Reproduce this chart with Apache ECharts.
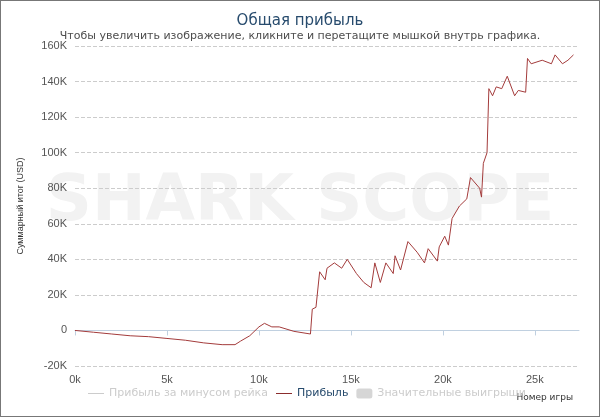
<!DOCTYPE html>
<html>
<head>
<meta charset="utf-8">
<script src="https://cdn.jsdelivr.net/npm/echarts@6/dist/echarts.min.js"></script>
<style>
  html, body { margin: 0; padding: 0; background: #fff; }
  #chart_show { width: 600px; height: 417px; box-sizing: border-box; border: 1px solid #777; }
</style>
</head>
<body>
<div id="chart_show"></div>
<script>
// номер игры (тыс.) и прибыль (тыс. USD)
var games = [0, 1, 2, 3, 4, 5, 6, 7, 8, 8.7, 9, 9.5, 10, 10.3, 10.7, 11.1, 11.9, 12.8, 12.9, 13.1, 13.3, 13.6, 13.7, 14.1, 14.5, 14.8, 15.3, 15.7, 16.1, 16.3, 16.6, 16.9, 17.3, 17.4, 17.7, 18.1, 18.6, 19.0, 19.2, 19.7, 19.8, 20.1, 20.3, 20.5, 20.9, 21.3, 21.5, 22.0, 22.1, 22.2, 22.4, 22.5, 22.7, 22.9, 23.2, 23.5, 23.9, 24.1, 24.5, 24.6, 24.8, 25.4, 25.9, 26.1, 26.5, 26.8, 27.1];
var profit = [0, -1, -2, -3, -3.5, -4.5, -5.5, -7, -8, -8, -6, -3, 2, 4, 2, 2, -0.5, -2, 12, 13, 33, 28.5, 35, 38, 35, 40, 32, 27, 24, 38, 27, 38, 32, 42, 34, 50, 44, 38, 46, 39, 47, 53, 48, 63, 70, 74, 86, 80, 75, 94, 100, 136, 132, 137, 136, 143, 132, 135, 134, 153, 150, 152, 150, 155, 150, 152, 155];
var yTicks = { min: -20, max: 160, step: 20 };
var xTicks = { min: 0, max: 27.4, step: 5 };

var points = games.map(function (g, i) { return [g, profit[i]]; });
var myChart = echarts.init(document.getElementById('chart_show'));
var lineIcon = 'path://M0,0H16V1H0Z';

myChart.setOption({
    animation: false,
    title: {
        text: 'Общая прибыль',
        subtext: 'Чтобы увеличить изображение, кликните и перетащите мышкой внутрь графика.',
        left: 'center', top: 8, itemGap: 2,
        textStyle: { color: '#274b6d', fontSize: 15, fontWeight: 'normal', fontFamily: 'DejaVu Sans' },
        subtextStyle: { color: '#4d4d4d', fontSize: 11, fontFamily: 'DejaVu Sans' }
    },
    graphic: [{
        type: 'text', left: 'center', top: 170, z: 0, silent: true,
        style: { text: 'SHARK SCOPE', fill: '#f2f2f2', font: 'bold 64px "DejaVu Sans"' }
    }, {
        type: 'text', right: 26, bottom: 14, silent: true,
        style: { text: 'Номер игры', fill: '#333', font: '9px "DejaVu Sans"' }
    }],
    legend: {
        bottom: 12, left: 82, itemWidth: 16, itemHeight: 10, itemGap: 8,
        data: [
            { name: 'Прибыль за минусом рейка', icon: lineIcon, itemHeight: 1 },
            { name: 'Прибыль', icon: lineIcon, itemHeight: 1 },
            { name: 'Значительные выигрыши', icon: 'roundRect' }
        ],
        selected: { 'Прибыль за минусом рейка': false, 'Прибыль': true, 'Значительные выигрыши': false },
        inactiveColor: '#ccc',
        textStyle: { color: '#274b6d', fontSize: 11, fontFamily: 'DejaVu Sans' }
    },
    grid: { left: 74, right: 20, top: 45, bottom: 50 },
    xAxis: {
        type: 'value', min: xTicks.min, max: xTicks.max, interval: xTicks.step,
        axisLine: { lineStyle: { color: '#c0d0e0' } },
        axisTick: { show: true, lineStyle: { color: '#c0d0e0' } },
        axisLabel: { color: '#555', fontSize: 11, formatter: function (v) { return v + 'k'; }, showMaxLabel: false },
        splitLine: { show: false }
    },
    yAxis: {
        type: 'value', min: yTicks.min, max: yTicks.max, interval: yTicks.step,
        name: 'Суммарный итог (USD)', nameLocation: 'middle', nameGap: 50,
        nameTextStyle: { fontSize: 9, color: '#333' },
        axisLine: { show: false }, axisTick: { show: false },
        axisLabel: { color: '#555', fontSize: 11, formatter: function (v) { return v === 0 ? '0' : v + 'K'; } },
        splitLine: { lineStyle: { color: '#ccc', type: 'dashed' } }
    },
    series: [
        { name: 'Прибыль за минусом рейка', type: 'line', symbol: 'none', data: [], itemStyle: { color: '#ccc' } },
        { name: 'Прибыль', type: 'line', data: points, symbol: 'none', z: 3,
          lineStyle: { color: '#a33b3b', width: 1 }, itemStyle: { color: '#8b2d2d' } },
        { name: 'Значительные выигрыши', type: 'scatter', data: [], itemStyle: { color: '#ccc' } }
    ]
});
</script>
</body>
</html>
